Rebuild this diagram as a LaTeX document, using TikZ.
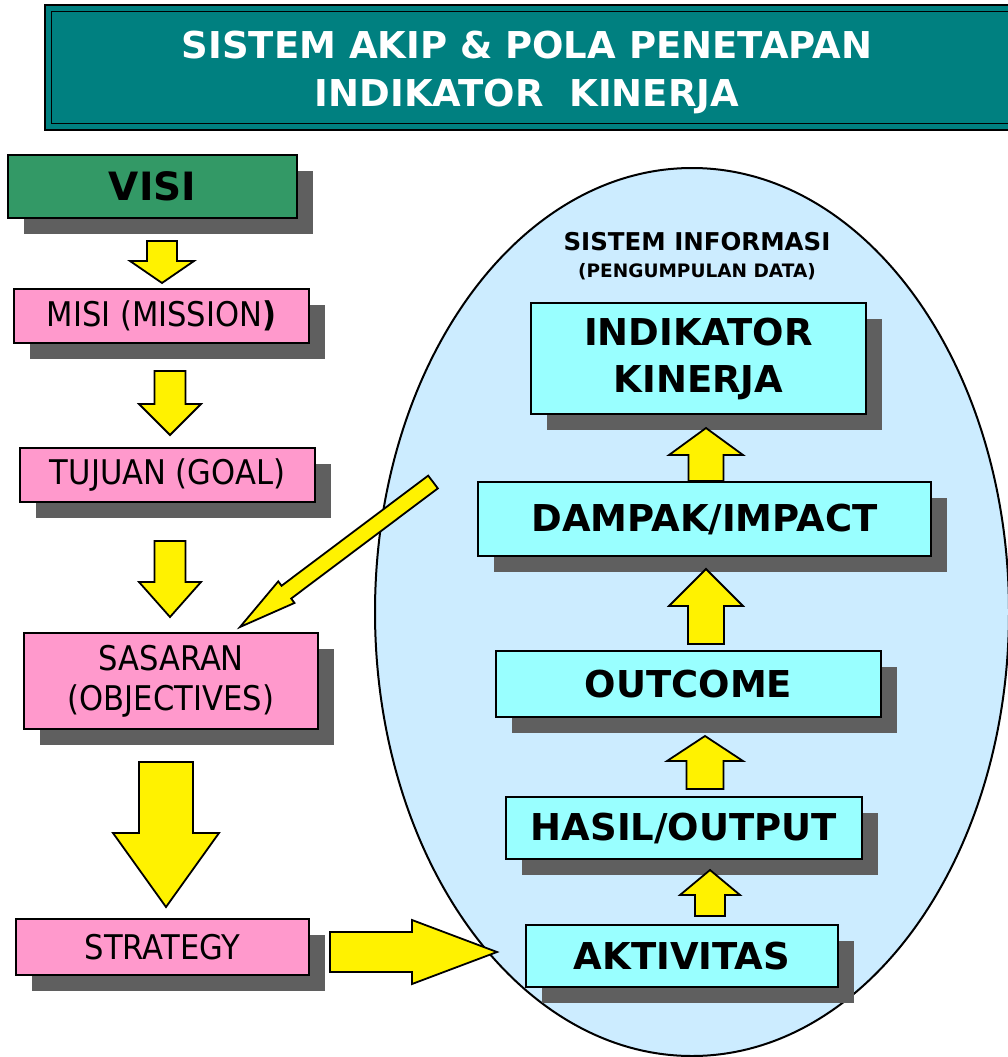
\documentclass[tikz,border=0pt]{standalone}
\usepackage{fontspec}
\setmainfont{DejaVu Sans}
\newfontfamily\tahoma[FakeStretch=0.9]{DejaVu Sans}
\usepackage{tikz}
\usepackage{xcolor}
\usetikzlibrary{shapes,shapes.geometric,arrows,positioning,shadows,calc}

\definecolor{titleteal}{HTML}{008080}
\definecolor{visigreen}{HTML}{339966}
\definecolor{boxpink}{HTML}{FF99CC}
\definecolor{boxcyan}{HTML}{99FFFF}
\definecolor{infoblue}{HTML}{CCECFF}
\definecolor{shadowgray}{HTML}{5F5F5F}

% block arrow: tail, tip, half shaft, half head, head length
\newcommand{\blockarrow}[5]{%
  \coordinate (ba-tail) at (#1);
  \coordinate (ba-tip) at (#2);
  \coordinate (ba-base) at ($(ba-tip)!#5!(ba-tail)$);
  \draw[blockarr] ($(ba-tail)!#3!90:(ba-tip)$) -- ($(ba-base)!#3!-90:(ba-tail)$)
    -- ($(ba-base)!#4!-90:(ba-tail)$) -- (ba-tip) -- ($(ba-base)!#4!90:(ba-tail)$)
    -- ($(ba-base)!#3!90:(ba-tail)$) -- ($(ba-tail)!#3!-90:(ba-tip)$) -- cycle;
}

\begin{document}
\begin{tikzpicture}[
    x=1pt, y=-1pt,
    >=stealth,
    shadowed/.style={drop shadow={shadow xshift=16pt, shadow yshift=-16pt, fill=shadowgray, opacity=1}},
    plan/.style={rectangle, draw, line width=2pt, fill=boxpink, shadowed, inner sep=0pt,
        align=center, font=\tahoma\fontsize{34}{40}\selectfont},
    result/.style={rectangle, draw, line width=2pt, fill=boxcyan, shadowed, inner sep=0pt,
        align=center, font=\bfseries\fontsize{37}{47}\selectfont},
    blockarr/.style={draw, line width=1.8pt, fill=yellow, line join=miter}
]
\useasboundingbox (0,0) rectangle (1008,1057);

% Title
\node[rectangle, draw, line width=1.5pt, double=titleteal, double distance=5pt, fill=titleteal,
    minimum width=972pt, minimum height=118pt] (title) at (534,67.5) {};
\node[align=center, text=white, font=\bfseries\fontsize{37}{48}\selectfont] (titletext) at (527,72)
    {SISTEM AKIP \& POLA PENETAPAN\\INDIKATOR\ \ KINERJA};

% Planning chain
\node[rectangle, draw, line width=2pt, fill=visigreen, shadowed, inner sep=0pt,
    minimum width=289pt, minimum height=63pt, font=\bfseries\fontsize{39}{46}\selectfont]
    (visi) at (152.5,186.5) {VISI};
\node[plan, minimum width=295pt, minimum height=54pt] (misi) at (161.5,316) {MISI (MISSION\textbf{)}};
\node[plan, minimum width=295pt, minimum height=54pt] (tujuan) at (167.5,475) {TUJUAN (GOAL)};
\node[plan, minimum width=294pt, minimum height=96pt] (sasaran) at (171,681) {SASARAN\\(OBJECTIVES)};
\node[plan, minimum width=293pt, minimum height=56pt] (strategy) at (162.5,947) {STRATEGY};

% Information system
\node[ellipse, draw, line width=2pt, fill=infoblue, minimum width=634pt, minimum height=888pt]
    (info) at (692,612) {};
\node[align=center, font=\bfseries\fontsize{24.5}{27}\selectfont] (infotext) at (697,256)
    {SISTEM INFORMASI\\{\fontsize{18.5}{20}\selectfont (PENGUMPULAN DATA)}};

\node[result, minimum width=335pt, minimum height=111pt] (indikator) at (698.5,358.5) {INDIKATOR\\KINERJA};
\node[result, minimum width=453pt, minimum height=74pt] (dampak) at (704.5,519) {DAMPAK/IMPACT};
\node[result, minimum width=385pt, minimum height=66pt] (outcome) at (688.5,684) {OUTCOME};
\node[result, minimum width=356pt, minimum height=62pt] (hasil) at (684,828) {HASIL/OUTPUT};
\node[result, minimum width=312pt, minimum height=62pt] (aktivitas) at (682,956) {AKTIVITAS};

% Arrows down the planning chain
\blockarrow{$(visi.south)+(9.5,22)$}{$(misi.north)+(0.5,-5)$}{15pt}{32pt}{22pt}
\blockarrow{$(misi.south)+(8.5,27)$}{$(tujuan.north)+(2.5,-12)$}{15.5pt}{31pt}{31pt}
\blockarrow{$(tujuan.south)+(2.5,38)$}{$(sasaran.north)+(-1,-15)$}{15.5pt}{31pt}{35pt}
\blockarrow{$(sasaran.south)+(-5,32)$}{$(strategy.north)+(3.5,-11)$}{27pt}{53pt}{74pt}

% Arrows up the results chain
\blockarrow{$(aktivitas.north)+(28,-8)$}{$(hasil.south)+(26,10)$}{15pt}{30pt}{25pt}
\blockarrow{$(hasil.north)+(21,-7)$}{$(outcome.south)+(16.5,18)$}{18.5pt}{38pt}{25pt}
\blockarrow{$(outcome.north)+(17.5,-6)$}{$(dampak.south)+(1.5,12)$}{18pt}{37pt}{37pt}
\blockarrow{$(dampak.north)+(1.5,0)$}{$(indikator.south)+(7.5,13)$}{17.5pt}{37pt}{27pt}

% Links between both sides
\blockarrow{$(dampak.west)+(-44,-37)$}{$(sasaran.north)+(69,-5)$}{8pt}{13.5pt}{58pt}
\blockarrow{$(strategy.east)+(20,5)$}{$(aktivitas.west)+(-28,-4)$}{20pt}{32pt}{85pt}

\end{tikzpicture}
\end{document}
